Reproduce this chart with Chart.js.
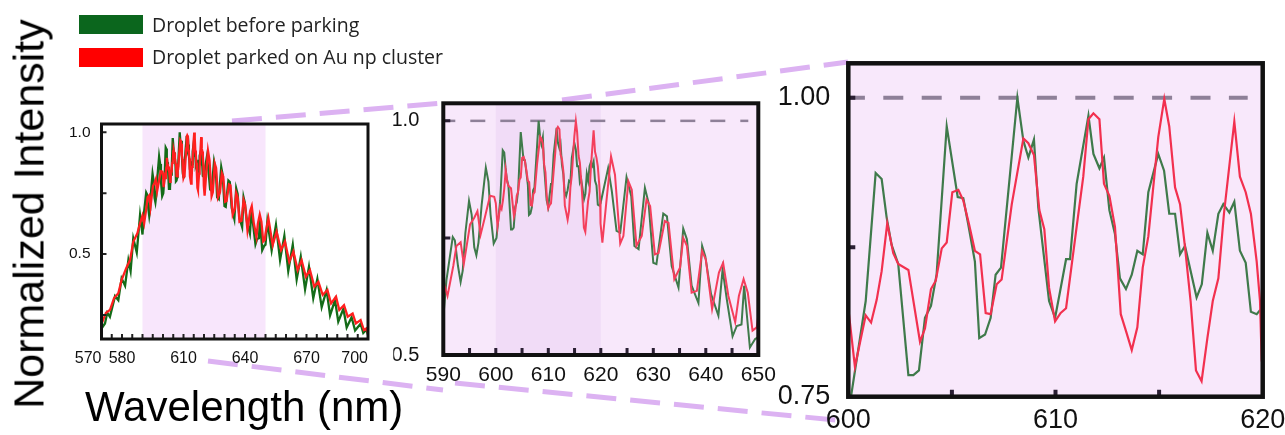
<!DOCTYPE html>
<html>
<head>
<meta charset="utf-8">
<script src="https://cdn.jsdelivr.net/npm/chart.js@4.4.1/dist/chart.umd.min.js"></script>
<style>
  body { margin: 0; width: 1285px; height: 435px; overflow: hidden; position: relative; background: #fff; }
  canvas { position: absolute; left: 0; top: 0; }
  .swatch { position: absolute; left: 79px; width: 64px; height: 19px; }
  .entry { position: absolute; left: 152px; font: 19.5px/19.5px "Open Sans", sans-serif; color: #222; white-space: nowrap; }
  #ytitle { position: absolute; left: 29px; top: 214px; transform: translate(-50%, -50%) rotate(-90deg);
            font: 43px/43px "Liberation Sans", Arial, sans-serif; white-space: nowrap; color: #000; }
  #xtitle { position: absolute; left: 85px; top: 386px; font: 42px/42px "Liberation Sans", Arial, sans-serif; white-space: nowrap; color: #000; }
</style>
</head>
<body>
<canvas id="links" width="1285" height="435"></canvas>
<canvas id="wide" width="1285" height="435"></canvas>
<canvas id="mid" width="1285" height="435"></canvas>
<canvas id="zoom" width="1285" height="435"></canvas>
<div class="swatch" style="top:15px;background:#0b661d"></div>
<div class="swatch" style="top:48px;background:#ff0000"></div>
<div class="entry" id="entry0" style="top:15px"></div>
<div class="entry" id="entry1" style="top:47px"></div>
<div id="ytitle">Normalized Intensity</div>
<div id="xtitle">Wavelength (nm)</div>
<script>
const seriesNames = ['Droplet before parking', 'Droplet parked on Au np cluster'];

// green: droplet before parking
const greenNm = [
  570.0, 571.7, 572.8, 574.1, 576.6, 578.2, 579.8, 581.5, 583.1, 584.2, 585.5, 587.2, 588.8,
  590.0, 590.6, 591.8, 592.2, 592.8, 593.3, 593.7, 594.2, 594.9, 595.4, 595.9, 596.3, 596.7,
  597.3, 598.1, 598.6, 599.0, 599.6,
  600.13, 600.84, 601.32, 601.61, 601.85, 602.09, 602.41, 602.90, 603.14, 603.41, 603.70,
  603.99, 604.26, 604.75, 605.28, 605.55, 605.79, 606.11, 606.32, 606.60, 606.87, 607.11,
  607.37, 608.16, 608.45, 608.69, 608.96, 609.17, 609.69, 609.98, 610.22, 610.51, 610.70,
  611.02, 611.59, 611.83, 612.12, 612.34, 612.60, 612.87, 613.11, 613.40, 613.68, 613.95,
  614.21, 614.48, 614.96, 615.24, 615.49, 615.77, 616.01, 616.25, 616.81, 617.06, 617.33,
  617.59, 617.86, 618.10, 618.39, 618.63, 618.90, 619.18, 619.43, 619.71, 619.95,
  621.4, 622.1, 623.0, 623.7, 624.9, 625.8, 626.4, 627.2, 628.4, 629.1, 630.0, 630.6, 631.9,
  632.6, 633.5, 634.8, 635.7, 636.4, 637.3, 638.6, 639.3, 639.9, 641.0, 642.4, 643.2, 644.0,
  645.1, 645.9, 646.8, 647.3, 648.4, 649.4, 650.0,
  650.9, 653.0, 655.1, 657.1, 659.2, 661.1, 663.3, 665.2, 667.2, 669.3, 671.2, 673.3, 675.3,
  677.4, 679.8, 681.5, 683.9, 685.5, 688.0, 689.6, 692.0, 693.7, 696.4, 697.7, 699.3, 700.0
];
const greenInt = [
  0.194, 0.215, 0.259, 0.242, 0.327, 0.310, 0.400, 0.370, 0.475, 0.430, 0.564, 0.506, 0.660,
  0.580, 0.660, 0.752, 0.745, 0.690, 0.656, 0.680, 0.760, 0.829, 0.800, 0.730, 0.713, 0.740,
  0.820, 0.900, 0.870, 0.800, 0.738,
  0.750, 0.830, 0.937, 0.932, 0.900, 0.877, 0.861, 0.768, 0.768, 0.772, 0.816,
  0.826, 0.852, 0.976, 0.917, 0.916, 0.894, 0.863, 0.799, 0.802, 0.816, 0.852,
  0.858, 1.000, 0.964, 0.950, 0.965, 0.908, 0.830, 0.816, 0.838, 0.865, 0.865,
  0.928, 0.985, 0.953, 0.941, 0.950, 0.906, 0.886, 0.849, 0.840, 0.852, 0.872,
  0.869, 0.921, 0.953, 0.939, 0.903, 0.903, 0.869, 0.876, 0.833, 0.844, 0.887,
  0.872, 0.903, 0.911, 0.904, 0.913, 0.872, 0.862, 0.821, 0.819, 0.824,
  0.899, 0.850, 0.765, 0.761, 0.880, 0.839, 0.733, 0.726, 0.857, 0.825, 0.697, 0.694, 0.802,
  0.796, 0.690, 0.644, 0.770, 0.747, 0.648, 0.611, 0.733, 0.711, 0.630, 0.584, 0.683, 0.619,
  0.540, 0.562, 0.565, 0.648, 0.516, 0.534, 0.538,
  0.635, 0.515, 0.620, 0.475, 0.575, 0.430, 0.538, 0.395, 0.489, 0.355, 0.448, 0.318, 0.398,
  0.282, 0.352, 0.248, 0.311, 0.222, 0.275, 0.198, 0.240, 0.186, 0.214, 0.176, 0.190, 0.168
];

// red: droplet parked on Au np cluster
const redNm = [
  570.0, 572.2, 574.1, 576.1, 578.2, 579.8, 582.0, 583.9, 585.5, 587.5, 588.8,
  590.0, 590.8, 591.9, 592.5, 593.3, 593.9, 595.1, 595.9, 596.5, 597.1, 597.9, 598.9, 599.7,
  600.0, 600.32, 600.84, 601.10, 601.37, 601.61, 601.88, 602.17, 602.41, 602.90, 603.46,
  603.70, 603.99, 604.22, 604.51, 604.75, 605.02, 605.31, 605.55, 605.83, 606.11, 606.36,
  606.63, 606.87, 607.16, 607.40, 607.89, 608.45, 608.69, 608.96, 609.22, 609.46, 609.69,
  609.98, 610.25, 610.51, 611.02, 611.34, 611.59, 611.83, 612.12, 612.34, 612.60, 612.87,
  613.15, 613.40, 613.68, 613.95, 614.21, 614.48, 614.96, 615.25, 615.49, 615.77, 616.01,
  616.25, 616.52, 616.78, 617.05, 617.33, 617.59, 617.86, 618.13, 618.63, 618.90, 619.18,
  619.43, 619.71, 619.87, 619.95,
  620.3, 621.1, 621.95, 622.7, 623.7, 624.3, 625.25, 625.9, 626.8, 627.8, 628.7, 629.4, 630.3,
  631.0, 632.2, 632.9, 634.0, 635.1, 635.7, 636.4, 637.3, 638.3, 639.3, 640.0, 641.2, 642.5,
  643.3, 644.3, 645.6, 646.3, 647.2, 648.0, 648.9, 649.7, 650.0,
  651.4, 653.5, 655.4, 657.6, 659.5, 661.6, 663.6, 665.7, 667.6, 669.7, 671.7, 673.8, 675.8,
  677.9, 680.2, 682.0, 684.4, 686.0, 688.3, 690.1, 692.5, 694.1, 696.4, 698.0, 699.3, 700.0
];
const redInt = [
  0.212, 0.259, 0.270, 0.318, 0.339, 0.393, 0.441, 0.475, 0.550, 0.585, 0.626,
  0.658, 0.626, 0.690, 0.733, 0.741, 0.694, 0.779, 0.793, 0.807, 0.757, 0.793, 0.840, 0.838,
  0.824, 0.775, 0.818, 0.812, 0.831, 0.855, 0.895, 0.870, 0.861, 0.856, 0.796,
  0.807, 0.840, 0.847, 0.874, 0.879, 0.921, 0.923, 0.914, 0.894, 0.872, 0.869,
  0.820, 0.819, 0.844, 0.848, 0.911, 0.966, 0.962, 0.952, 0.906, 0.890, 0.841,
  0.813, 0.820, 0.824, 0.892, 0.934, 0.982, 0.987, 0.982, 0.928, 0.918, 0.892,
  0.819, 0.805, 0.789, 0.808, 0.858, 0.884, 0.967, 0.999, 0.976, 0.925, 0.911,
  0.875, 0.830, 0.772, 0.763, 0.799, 0.830, 0.849, 0.903, 0.980, 0.934, 0.921,
  0.903, 0.863, 0.830, 0.781,
  0.740, 0.832, 0.924, 0.885, 0.738, 0.754, 0.871, 0.853, 0.733, 0.754, 0.832, 0.818, 0.715,
  0.718, 0.786, 0.782, 0.662, 0.687, 0.750, 0.733, 0.633, 0.637, 0.722, 0.704, 0.598, 0.676,
  0.697, 0.626, 0.570, 0.626, 0.662, 0.633, 0.552, 0.559, 0.584,
  0.647, 0.537, 0.592, 0.516, 0.551, 0.468, 0.510, 0.434, 0.475, 0.407, 0.434, 0.366, 0.386,
  0.332, 0.352, 0.297, 0.325, 0.270, 0.290, 0.243, 0.256, 0.215, 0.229, 0.188, 0.195, 0.174
];

const wideLabelsX = [570, 580, 610, 640, 670, 700];
const wideLabelsY = [0.5, 1.0];
const midLabelsX = [590, 600, 610, 620, 630, 640, 650];
const midLabelsY = [0.5, 1.0];
const zoomLabelsX = [600, 610, 620];
const zoomLabelsY = [0.75, 1.0];

function range(from, to, step) {
    const out = [];
    for (let v = from; v <= to + 1e-9; v += step) out.push(v);
    return out;
}

function toPoints(xs, ys) {
    return xs.map((x, i) => ({ x: x, y: ys[i] }));
}

document.getElementById('entry0').textContent = seriesNames[0];
document.getElementById('entry1').textContent = seriesNames[1];

// background, shading, reference line, inward ticks and frame
function panel(cfg) {
    return {
        id: 'panel-' + cfg.id,
        beforeDatasetsDraw(chart) {
            const { ctx, chartArea: a, scales: { x, y } } = chart;
            ctx.save();
            ctx.fillStyle = cfg.fill;
            ctx.fillRect(a.left, a.top, a.width, a.height);
            cfg.bands.forEach(b => {
                const x0 = x.getPixelForValue(b.from);
                const x1 = x.getPixelForValue(b.to);
                ctx.fillStyle = b.color;
                ctx.fillRect(x0, a.top, x1 - x0, a.height);
            });
            if (cfg.refLine) {
                const r = cfg.refLine;
                const py = y.getPixelForValue(r.value);
                ctx.strokeStyle = r.color;
                ctx.lineWidth = r.width;
                ctx.setLineDash(r.dash);
                ctx.lineDashOffset = r.offset;
                ctx.beginPath();
                ctx.moveTo(a.left, py);
                ctx.lineTo(a.right - r.endGap, py);
                ctx.stroke();
            }
            ctx.restore();
        },
        afterDatasetsDraw(chart) {
            const { ctx, chartArea: a, scales: { x, y } } = chart;
            ctx.save();
            ctx.strokeStyle = cfg.tickColor;
            ctx.lineWidth = cfg.tickWidth;
            ctx.beginPath();
            cfg.ticksX.forEach(v => {
                const px = x.getPixelForValue(v);
                ctx.moveTo(px, a.bottom);
                ctx.lineTo(px, a.bottom - cfg.tickLength);
            });
            cfg.ticksY.forEach(v => {
                const py = y.getPixelForValue(v);
                ctx.moveTo(a.left, py);
                ctx.lineTo(a.left + cfg.tickLength, py);
            });
            ctx.stroke();
            ctx.strokeStyle = '#111';
            ctx.lineWidth = cfg.frameWidth;
            ctx.strokeRect(a.left, a.top, a.width, a.height);
            ctx.restore();
        }
    };
}

function makeChart(cfg) {
    const font = 'Liberation Sans';
    return new Chart(document.getElementById(cfg.id), {
        type: 'line',
        data: {
            datasets: [
                { label: seriesNames[1], data: toPoints(redNm, redInt), borderColor: cfg.red,
                  borderWidth: cfg.lineWidth, pointRadius: 0, tension: 0 },
                { label: seriesNames[0], data: toPoints(greenNm, greenInt), borderColor: cfg.green,
                  borderWidth: cfg.lineWidth, pointRadius: 0, tension: 0 }
            ]
        },
        options: {
            responsive: false,
            animation: false,
            devicePixelRatio: 1,
            layout: { padding: cfg.padding },
            plugins: { legend: { display: false }, tooltip: { enabled: false } },
            scales: {
                x: {
                    type: 'linear', min: cfg.xMin, max: cfg.xMax,
                    grid: { display: false }, border: { display: false },
                    ticks: { autoSkip: false, maxRotation: 0, padding: cfg.xPad, color: '#111',
                             font: { family: font, size: cfg.xFont }, callback: cfg.xFormat },
                    afterBuildTicks: s => { s.ticks = cfg.labelsX.map(v => ({ value: v })); },
                    afterFit: s => { s.height = cfg.xAxisH; s.paddingLeft = 0; s.paddingRight = 0; }
                },
                y: {
                    type: 'linear', min: cfg.yMin, max: cfg.yMax,
                    grid: { display: false }, border: { display: false },
                    ticks: { padding: cfg.yPad, color: '#111',
                             font: { family: font, size: cfg.yFont }, callback: cfg.yFormat },
                    afterBuildTicks: s => { s.ticks = cfg.labelsY.map(v => ({ value: v })); },
                    afterFit: s => { s.width = cfg.yAxisW; s.paddingTop = 0; s.paddingBottom = 0; }
                }
            }
        },
        plugins: [panel(cfg)]
    });
}

// connectors between the panels
const links = document.getElementById('links').getContext('2d');
links.strokeStyle = '#dcb2f2';
links.lineWidth = 5;
links.setLineDash([30, 14]);
[[232, 121, 443, 103], [562, 100, 848, 62], [208, 361, 443, 390], [455, 383, 845, 421]].forEach(l => {
    links.beginPath();
    links.moveTo(l[0], l[1]);
    links.lineTo(l[2], l[3]);
    links.stroke();
});

makeChart({
    id: 'wide', xMin: 570, xMax: 700, yMin: 0.151, yMax: 1.034,
    labelsX: wideLabelsX, labelsY: wideLabelsY,
    xFormat: v => (v === 570 || v === 700) ? v + '\u2007\u2007\u2007' : String(v),
    yFormat: v => v.toFixed(1),
    padding: { left: 61.5, right: 917, top: 124, bottom: 66 },
    yAxisW: 40, xAxisH: 30, xPad: 2, yPad: 3, xFont: 16, yFont: 15.5,
    green: '#146b18', red: '#ff1f1f', lineWidth: 2.3,
    fill: '#ffffff', bands: [{ from: 590, to: 650, color: '#f8e6fc' }], refLine: null,
    ticksX: range(575, 695, 5), ticksY: [0.25, 0.5, 0.75, 1.0],
    tickLength: 5, tickWidth: 2, tickColor: '#222', frameWidth: 3
});

makeChart({
    id: 'mid', xMin: 590, xMax: 650, yMin: 0.5, yMax: 1.0375,
    labelsX: midLabelsX, labelsY: midLabelsY,
    xFormat: v => String(v), yFormat: v => v.toFixed(1),
    padding: { left: 393.3, right: 526.7, top: 103.3, bottom: 50 },
    yAxisW: 50, xAxisH: 30, xPad: 0, yPad: 16, xFont: 21, yFont: 20,
    green: '#3f7a4b', red: '#f43f5c', lineWidth: 2,
    fill: '#f8e8fb', bands: [{ from: 600, to: 620, color: '#f1dcf7' }],
    refLine: { value: 1.0, color: '#8e8098', width: 2.5, dash: [15, 15], offset: 3, endGap: 10 },
    ticksX: range(595, 645, 5), ticksY: [0.75, 1.0],
    tickLength: 7, tickWidth: 3, tickColor: '#2a1f33', frameWidth: 4
});

makeChart({
    id: 'zoom', xMin: 600, xMax: 620, yMin: 0.75, yMax: 1.0288,
    labelsX: zoomLabelsX, labelsY: zoomLabelsY,
    xFormat: v => String(v), yFormat: v => v.toFixed(2),
    padding: { left: 778.3, right: 22.3, top: 63.3, bottom: 2.3 },
    yAxisW: 70, xAxisH: 36, xPad: 0, yPad: 10, xFont: 27, yFont: 27,
    green: '#3f7a4b', red: '#f2304f', lineWidth: 2.2,
    fill: '#f8e8fb', bands: [],
    refLine: { value: 1.0, color: '#8e8098', width: 4, dash: [20, 18.4], offset: 3.4, endGap: 15 },
    ticksX: [605, 610, 615], ticksY: [0.875, 1.0],
    tickLength: 7, tickWidth: 4, tickColor: '#2a1f33', frameWidth: 4.5
});
</script>
</body>
</html>
